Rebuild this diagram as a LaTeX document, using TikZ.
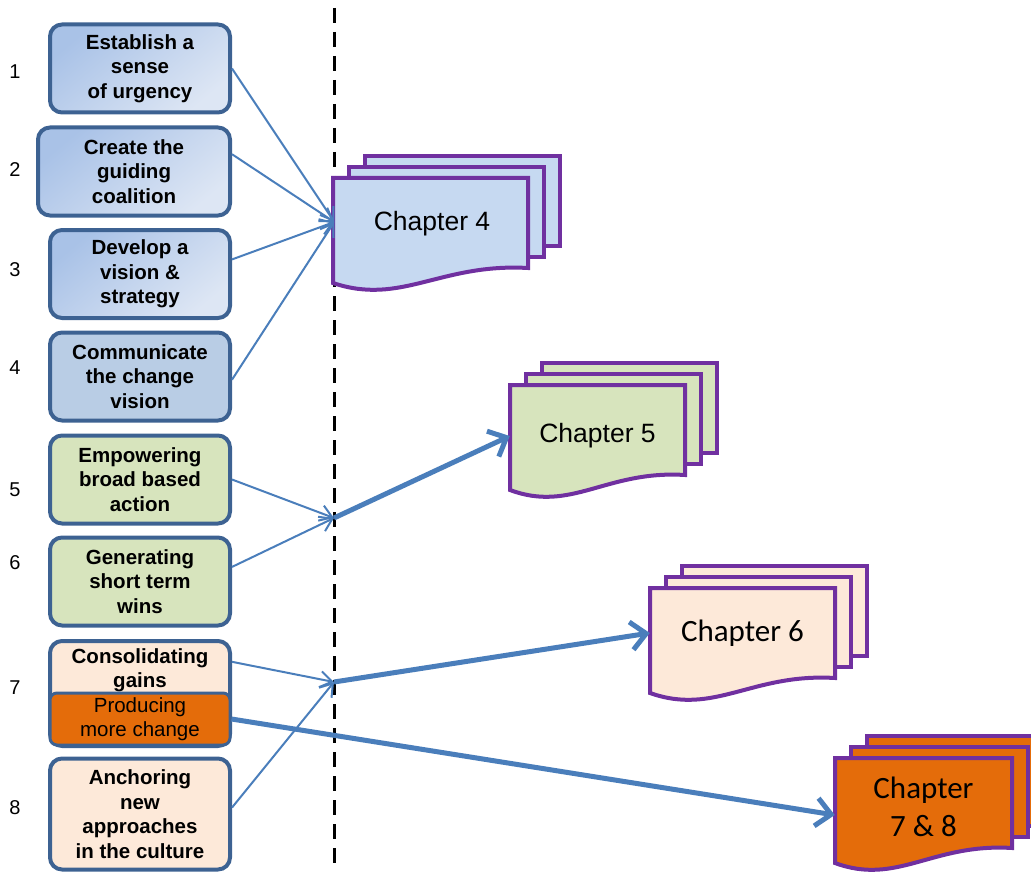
\documentclass[tikz,border=0pt]{standalone}
\usepackage{fontspec}
\setmainfont{Liberation Sans}
\newfontfamily\calibri{Carlito}
\usetikzlibrary{arrows.meta}
\definecolor{boxline}{HTML}{3D6292}
\definecolor{blueA}{HTML}{A9C2E7}
\definecolor{blueB}{HTML}{DDE6F4}
\definecolor{bluebox}{HTML}{B9CDE5}
\definecolor{greenbox}{HTML}{D7E4BD}
\definecolor{peachbox}{HTML}{FDE9D9}
\definecolor{orangebox}{HTML}{E46C0A}
\definecolor{docblue}{HTML}{C6D9F1}
\definecolor{docline}{HTML}{7030A0}
\definecolor{arrowblue}{HTML}{4A7EBB}

\begin{document}
\begin{tikzpicture}[x=1pt,y=-1pt,inner sep=0pt,
	stepbox/.style={rectangle,rounded corners=12pt,draw=boxline,line width=4pt,minimum width=180pt,minimum height=88pt,align=center,font=\fontsize{20.5}{24.5}\selectfont\bfseries},
	shaded/.style={top color=blueA,bottom color=blueB,shading angle=40},
	num/.style={font=\fontsize{20}{22}\selectfont},
	sheet/.style={draw=docline,line width=4pt,line join=miter},
	chaptext/.style={align=center,minimum height=60pt,font=\fontsize{26.5}{30}\selectfont},
	link/.style={draw=arrowblue,line width=2pt,-{Straight Barb[length=12pt,width=16pt]}},
	biglink/.style={draw=arrowblue,line width=5pt,-{Straight Barb[length=15pt,width=28pt]}}]
	
	\useasboundingbox (0,0) rectangle (1031,872);
	
	\draw[line width=3pt,dash pattern=on 15pt off 9pt] (334,8) -- (334,872);
	
	% chapter sheets
	\foreach \X/\Y/\W/\c in {333/178/195/docblue, 510/385/175/greenbox, 650/588/185/peachbox, 835/758/177/orangebox}{
		\foreach \s in {2,1}{
			\draw[sheet,fill=\c] (\X+16*\s,\Y-11*\s) rectangle (\X+\W+16*\s,\Y-11*\s+90);
		}
		\draw[sheet,fill=\c] (\X,\Y) -- (\X+\W,\Y) -- (\X+\W,\Y+90)
			.. controls (\X+0.55*\W,\Y+85) and (\X+0.35*\W,\Y+128) .. (\X,\Y+105) -- cycle;
	}
	
	\node[chaptext,minimum width=195pt] (ch4) at (432,224) {Chapter 4};
	\node[chaptext,minimum width=175pt] (ch5) at (597.5,436) {Chapter 5};
	\node[chaptext,minimum width=185pt,font=\calibri\fontsize{31}{38}\selectfont] (ch6) at (742.5,633) {Chapter 6};
	\node[chaptext,minimum width=177pt,font=\calibri\fontsize{31}{38}\selectfont] (ch78) at (923.5,807) {Chapter\\7 \& 8};
	
	% steps
	\foreach \n/\y in {1/72,2/170,3/270,4/368,5/490,6/563,7/688,8/808}{
		\node[num] (n\n) at (15,\y) {\n};
	}
	
	\node[stepbox,shaded] (b1) at (140,68.5) {Establish a\\sense\\of urgency};
	\node[stepbox,shaded,minimum width=192pt] (b2) at (134,171.5) {Create the\\guiding\\coalition};
	\node[stepbox,shaded] (b3) at (140,274) {Develop a\\vision \&\\strategy};
	\node[stepbox,fill=bluebox] (b4) at (140,376.5) {Communicate\\the change\\vision};
	\node[stepbox,fill=greenbox] (b5) at (140,479.5) {Empowering\\broad based\\action};
	\node[stepbox,fill=greenbox] (b6) at (140,581.5) {Generating\\short term\\wins};
	\node[stepbox,fill=peachbox,minimum height=105pt] (b7) at (140,693.5) {};
	\node[align=center,font=\fontsize{20.5}{24.5}\selectfont\bfseries] (b7t) at (140,670) {Consolidating\\gains};
	\node[stepbox,fill=orangebox,rounded corners=7pt,line width=3pt,minimum height=52pt,font=\fontsize{20.5}{24.5}\selectfont] (p7) at (140,719) {Producing\\more change};
	\node[stepbox,fill=peachbox,minimum height=111pt] (b8) at (140,814) {Anchoring\\new\\approaches\\in the culture};
	
	\coordinate (j5) at (334,518);
	\coordinate (j7) at (334,682);
	
	\path[every edge/.style=link]
	(b1.east) edge ([yshift=2pt]ch4.west)
	(b2.10) edge ([yshift=2pt]ch4.west)
	(b3.9) edge ([yshift=2pt]ch4.west)
	(b4.-2) edge ([yshift=2pt]ch4.west)
	
	(b5.east) edge (j5)
	(b6.9) edge (j5)
	
	(b7.19) edge (j7)
	(b8.4) edge (j7)
	;
	
	\path[every edge/.style=biglink]
	(j5) edge (ch5.west)
	(j7) edge (ch6.west)
	(p7.east) edge ([yshift=-8pt]ch78.west)
	;
	
\end{tikzpicture}
\end{document}
